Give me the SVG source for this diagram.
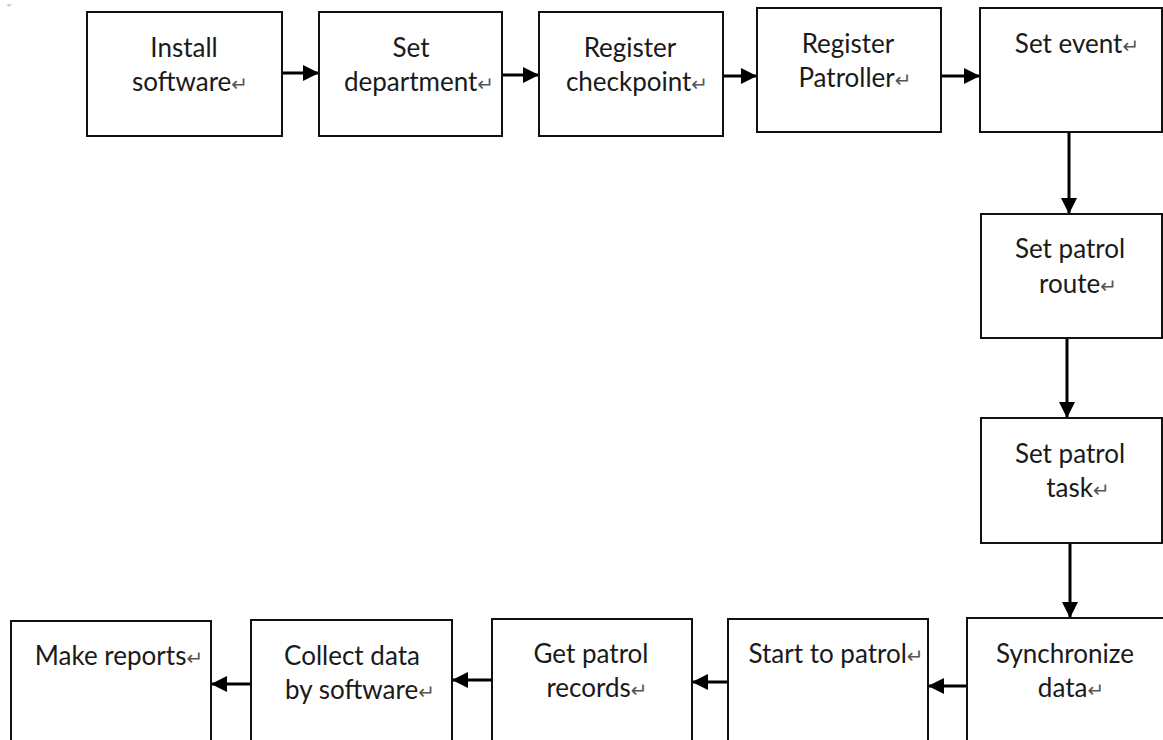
<svg xmlns="http://www.w3.org/2000/svg" width="1163" height="740" viewBox="0 0 1163 740">
<style>
.box{fill:#fff;stroke:#111;stroke-width:2}
.t{font-family:Lato,"Open Sans","DejaVu Sans",sans-serif;font-size:26px;fill:#1a1a1a;text-anchor:middle}
.rm{font-family:"DejaVu Sans",sans-serif;font-size:20px;fill:#555}
.c{stroke:#000;stroke-width:3;fill:none;marker-end:url(#ah)}
</style>
<defs>
<marker id="ah" markerUnits="userSpaceOnUse" markerWidth="16" markerHeight="16" refX="16" refY="8" orient="auto" viewBox="0 0 16 16">
<path d="M0,0 L16,8 L0,16 z" fill="#000"/>
</marker>
</defs>
<rect width="1163" height="740" fill="#fff"/>
<text x="7" y="7" style="font-family:'DejaVu Sans',sans-serif;font-size:6px;fill:#999">↵</text>
<g id="connectors">
<line class="c" x1="283" y1="73" x2="319" y2="73"/>
<line class="c" x1="503" y1="75" x2="539" y2="75"/>
<line class="c" x1="724" y1="76" x2="757" y2="76"/>
<line class="c" x1="942" y1="76" x2="980" y2="76"/>
<line class="c" x1="1069" y1="133" x2="1069" y2="214"/>
<line class="c" x1="1067" y1="339" x2="1067" y2="418"/>
<line class="c" x1="1070" y1="544" x2="1070" y2="618"/>
<line class="c" x1="966" y1="686" x2="928" y2="686"/>
<line class="c" x1="727" y1="682" x2="692" y2="682"/>
<line class="c" x1="491" y1="680" x2="452" y2="680"/>
<line class="c" x1="250" y1="684" x2="211" y2="684"/>
</g>
<g id="n1"><rect class="box" x="87" y="12" width="195" height="124"/>
<text class="t" x="184" y="57">Install</text>
<text class="t" x="190" y="91">software<tspan class="rm">↵</tspan></text></g>
<g id="n2"><rect class="box" x="319" y="12" width="183" height="124"/>
<text class="t" x="411" y="57">Set</text>
<text class="t" x="419" y="91">department<tspan class="rm">↵</tspan></text></g>
<g id="n3"><rect class="box" x="539" y="12" width="184" height="124"/>
<text class="t" x="630" y="57">Register</text>
<text class="t" x="637" y="91">checkpoint<tspan class="rm">↵</tspan></text></g>
<g id="n4"><rect class="box" x="757" y="8" width="184" height="124"/>
<text class="t" x="848" y="53">Register</text>
<text class="t" x="855" y="87">Patroller<tspan class="rm">↵</tspan></text></g>
<g id="n5"><rect class="box" x="980" y="8" width="182" height="124"/>
<text class="t" x="1077" y="53">Set event<tspan class="rm">↵</tspan></text></g>
<g id="n6"><rect class="box" x="981" y="214" width="181" height="124"/>
<text class="t" x="1070" y="258">Set patrol</text>
<text class="t" x="1078" y="293">route<tspan class="rm">↵</tspan></text></g>
<g id="n7"><rect class="box" x="981" y="418" width="181" height="125"/>
<text class="t" x="1070" y="463">Set patrol</text>
<text class="t" x="1078" y="497">task<tspan class="rm">↵</tspan></text></g>
<g id="n8"><rect class="box" x="967" y="618" width="210" height="140"/>
<text class="t" x="1065" y="663">Synchronize</text>
<text class="t" x="1071" y="697">data<tspan class="rm">↵</tspan></text></g>
<g id="n9"><rect class="box" x="728" y="619" width="200" height="140"/>
<text class="t" x="836" y="663">Start to patrol<tspan class="rm">↵</tspan></text></g>
<g id="n10"><rect class="box" x="492" y="619" width="200" height="140"/>
<text class="t" x="591" y="663">Get patrol</text>
<text class="t" x="597" y="697">records<tspan class="rm">↵</tspan></text></g>
<g id="n11"><rect class="box" x="251" y="620" width="201" height="140"/>
<text class="t" x="352" y="665">Collect data</text>
<text class="t" x="360" y="699">by software<tspan class="rm">↵</tspan></text></g>
<g id="n12"><rect class="box" x="11" y="621" width="200" height="140"/>
<text class="t" x="119" y="665">Make reports<tspan class="rm">↵</tspan></text></g>
</svg>
